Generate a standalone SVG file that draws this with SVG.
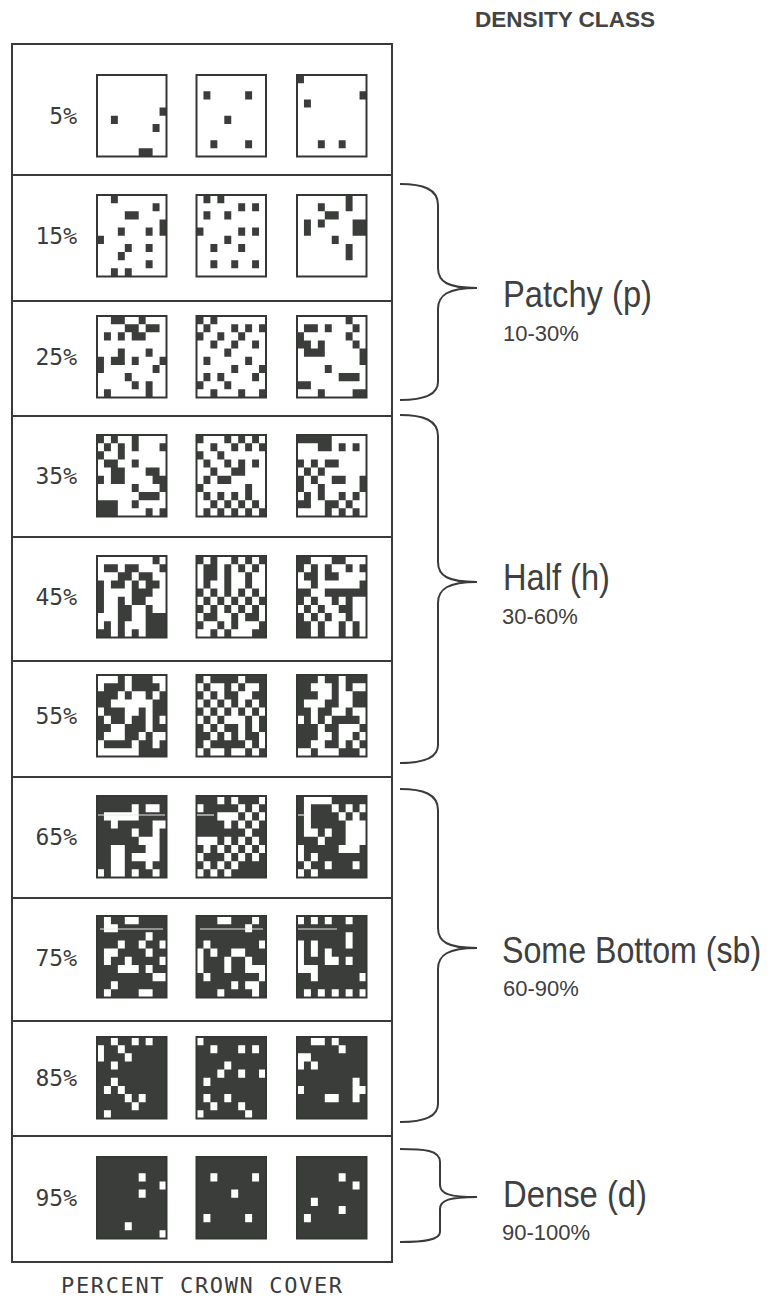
<svg xmlns="http://www.w3.org/2000/svg" width="770" height="1299" viewBox="0 0 770 1299">
<style>
.k{fill:#3b3d3b}
.w{fill:#fff}
.bg{fill:#3b3d3b}
.sq{fill:none;stroke:#353735;stroke-width:2}
.frame{fill:none;stroke:#3a3a3a;stroke-width:2}
.sep{stroke:#3a3a3a;stroke-width:2}
.pct{font-family:"DejaVu Sans Mono","Liberation Mono",monospace;font-size:23px;fill:#3c3c3c;text-anchor:end}
.foot{font-family:"DejaVu Sans Mono","Liberation Mono",monospace;font-size:22px;fill:#3c3c3c}
.head{font-family:"Liberation Sans",Arial,sans-serif;font-size:22px;font-weight:bold;fill:#444}
.cls{font-family:"Liberation Sans",Arial,sans-serif;font-size:37px;fill:#404040}
.rng{font-family:"Liberation Sans",Arial,sans-serif;font-size:22px;fill:#404040}
.brace{fill:none;stroke:#3a3a3a;stroke-width:2}
.scan{stroke:#e8e8e8;stroke-width:1.2}
</style>

<text class="head" x="475" y="27" textLength="180" lengthAdjust="spacingAndGlyphs">DENSITY CLASS</text>

<g id="table">
<rect class="frame" x="12" y="44" width="380" height="1218"/>
<line class="sep" x1="12" y1="175" x2="392" y2="175"/>
<line class="sep" x1="12" y1="301" x2="392" y2="301"/>
<line class="sep" x1="12" y1="416" x2="392" y2="416"/>
<line class="sep" x1="12" y1="537" x2="392" y2="537"/>
<line class="sep" x1="12" y1="661" x2="392" y2="661"/>
<line class="sep" x1="12" y1="777" x2="392" y2="777"/>
<line class="sep" x1="12" y1="898" x2="392" y2="898"/>
<line class="sep" x1="12" y1="1021" x2="392" y2="1021"/>
<line class="sep" x1="12" y1="1136" x2="392" y2="1136"/>
</g>

<g id="row-5">
<text class="pct" x="77" y="124">5%</text>
<g transform="translate(97 75) scale(6.95 8.15)"><path class="k" d="M9 4h1v1h-1zM2 5h1v1h-1zM8 6h1v1h-1zM6 9h2v1h-2z"/></g>
<rect class="sq" x="97" y="75" width="69.5" height="81.5"/>
<g transform="translate(196.5 75) scale(6.95 8.15)"><path class="k" d="M1 2h1v1h-1zM7 2h1v1h-1zM4 5h1v1h-1zM2 8h1v1h-1zM7 8h1v1h-1z"/></g>
<rect class="sq" x="196.5" y="75" width="69.5" height="81.5"/>
<g transform="translate(297 75) scale(6.95 8.15)"><path class="k" d="M0 0h1v1h-1zM9 2h1v1h-1zM1 3h1v1h-1zM3 8h1v1h-1zM6 8h1v1h-1z"/></g>
<rect class="sq" x="297" y="75" width="69.5" height="81.5"/>
</g>

<g id="row-15">
<text class="pct" x="77" y="244">15%</text>
<g transform="translate(97 195) scale(6.95 8.15)"><path class="k" d="M2 0h1v1h-1zM8 1h1v1h-1zM4 2h2v1h-2zM9 3h1v2h-1zM3 4h1v1h-1zM7 4h1v1h-1zM0 5h1v1h-1zM4 6h1v1h-1zM7 6h1v1h-1zM3 7h1v1h-1zM7 8h1v1h-1zM2 9h1v1h-1zM4 9h1v1h-1z"/></g>
<rect class="sq" x="97" y="195" width="69.5" height="81.5"/>
<g transform="translate(196.5 195) scale(6.95 8.15)"><path class="k" d="M1 0h1v1h-1zM3 0h1v1h-1zM6 1h1v1h-1zM8 1h1v1h-1zM1 2h1v1h-1zM4 2h1v1h-1zM0 4h1v1h-1zM6 4h1v1h-1zM8 4h1v1h-1zM4 5h1v1h-1zM2 6h1v1h-1zM6 6h1v1h-1zM2 8h1v1h-1zM5 8h1v1h-1zM8 8h1v1h-1z"/></g>
<rect class="sq" x="196.5" y="195" width="69.5" height="81.5"/>
<g transform="translate(297 195) scale(6.95 8.15)"><path class="k" d="M7 0h1v2h-1zM3 1h1v1h-1zM4 2h2v1h-2zM1 3h1v2h-1zM3 3h1v1h-1zM8 3h2v2h-2zM5 5h1v1h-1zM7 6h1v2h-1z"/></g>
<rect class="sq" x="297" y="195" width="69.5" height="81.5"/>
</g>

<g id="row-25">
<text class="pct" x="77" y="365">25%</text>
<g transform="translate(97 316) scale(6.95 8.15)"><path class="k" d="M2 0h2v1h-2zM6 0h1v1h-1zM4 1h2v1h-2zM7 1h2v1h-2zM1 2h1v1h-1zM3 2h1v1h-1zM5 2h2v1h-2zM3 4h1v1h-1zM7 4h1v1h-1zM0 5h1v2h-1zM2 5h2v1h-2zM5 5h1v1h-1zM9 5h1v1h-1zM8 6h1v1h-1zM4 7h1v1h-1zM5 8h1v1h-1zM7 8h1v2h-1zM1 9h1v1h-1z"/></g>
<rect class="sq" x="97" y="316" width="69.5" height="81.5"/>
<g transform="translate(196.5 316) scale(6.95 8.15)"><path class="k" d="M0 0h1v1h-1zM2 0h1v1h-1zM1 1h1v1h-1zM5 1h1v1h-1zM7 1h1v1h-1zM9 1h1v1h-1zM0 2h1v1h-1zM3 2h1v1h-1zM6 2h1v1h-1zM2 3h1v1h-1zM5 3h1v1h-1zM8 3h1v1h-1zM4 4h1v1h-1zM1 5h1v1h-1zM7 5h1v1h-1zM5 6h1v1h-1zM9 6h1v1h-1zM1 7h1v1h-1zM3 7h1v1h-1zM8 7h1v1h-1zM0 8h1v1h-1zM4 8h1v1h-1zM2 9h1v1h-1zM6 9h1v1h-1zM9 9h1v1h-1z"/></g>
<rect class="sq" x="196.5" y="316" width="69.5" height="81.5"/>
<g transform="translate(297 316) scale(6.95 8.15)"><path class="k" d="M7 0h1v1h-1zM1 1h2v1h-2zM4 1h1v1h-1zM8 1h1v1h-1zM0 2h1v2h-1zM7 2h1v1h-1zM1 3h1v1h-1zM3 3h1v1h-1zM8 3h1v1h-1zM1 4h3v1h-3zM9 4h1v2h-1zM4 6h1v1h-1zM6 7h3v1h-3zM0 8h2v1h-2zM3 9h1v1h-1zM8 9h2v1h-2z"/></g>
<rect class="sq" x="297" y="316" width="69.5" height="81.5"/>
</g>

<g id="row-35">
<text class="pct" x="77" y="484">35%</text>
<g transform="translate(97 435) scale(6.95 8.15)"><path class="k" d="M0 0h1v1h-1zM2 0h1v1h-1zM5 0h1v2h-1zM1 1h1v1h-1zM3 1h1v2h-1zM9 1h1v1h-1zM0 2h1v1h-1zM1 3h2v1h-2zM5 3h1v1h-1zM2 4h2v2h-2zM7 4h2v1h-2zM0 5h1v1h-1zM8 5h2v1h-2zM5 6h1v1h-1zM9 6h1v1h-1zM6 7h3v1h-3zM0 8h3v2h-3zM5 8h1v1h-1zM7 9h1v1h-1zM9 9h1v1h-1z"/></g>
<rect class="sq" x="97" y="435" width="69.5" height="81.5"/>
<g transform="translate(196.5 435) scale(6.95 8.15)"><path class="k" d="M0 0h1v1h-1zM4 0h1v1h-1zM6 0h1v1h-1zM8 0h1v1h-1zM2 1h1v1h-1zM5 1h1v1h-1zM7 1h1v1h-1zM9 1h1v1h-1zM0 2h1v1h-1zM3 2h1v1h-1zM1 3h1v1h-1zM4 3h1v1h-1zM6 3h1v1h-1zM8 3h1v1h-1zM2 4h1v1h-1zM5 4h2v1h-2zM1 5h1v1h-1zM3 5h2v1h-2zM0 6h1v1h-1zM7 6h1v1h-1zM1 7h1v1h-1zM3 7h1v1h-1zM5 7h1v1h-1zM7 7h1v1h-1zM2 8h1v1h-1zM4 8h1v1h-1zM6 8h1v1h-1zM8 8h1v1h-1zM1 9h1v1h-1zM3 9h1v1h-1zM5 9h1v1h-1zM7 9h1v1h-1zM9 9h1v1h-1z"/></g>
<rect class="sq" x="196.5" y="435" width="69.5" height="81.5"/>
<g transform="translate(297 435) scale(6.95 8.15)"><path class="k" d="M0 0h5v1h-5zM3 1h2v1h-2zM6 1h1v1h-1zM8 1h1v1h-1zM0 3h1v1h-1zM2 3h1v1h-1zM4 3h2v1h-2zM1 4h1v1h-1zM3 4h1v1h-1zM0 5h1v2h-1zM2 5h1v1h-1zM5 5h2v1h-2zM9 5h1v2h-1zM3 6h1v2h-1zM1 7h1v1h-1zM6 7h1v1h-1zM8 7h1v1h-1zM0 8h2v1h-2zM4 8h2v1h-2zM7 8h1v1h-1zM4 9h1v1h-1zM6 9h1v1h-1zM8 9h1v1h-1z"/></g>
<rect class="sq" x="297" y="435" width="69.5" height="81.5"/>
</g>

<g id="row-45">
<text class="pct" x="77" y="605">45%</text>
<g transform="translate(97 556) scale(6.95 8.15)"><path class="k" d="M8 0h1v1h-1zM1 1h2v1h-2zM4 1h2v1h-2zM9 1h1v1h-1zM3 2h2v1h-2zM6 2h2v1h-2zM0 3h1v4h-1zM2 3h2v1h-2zM5 3h1v3h-1zM7 3h2v1h-2zM6 4h2v1h-2zM3 5h1v5h-1zM6 5h1v1h-1zM4 6h1v2h-1zM7 6h1v4h-1zM8 7h2v3h-2zM1 8h1v2h-1zM0 9h1v1h-1zM5 9h1v1h-1z"/></g>
<rect class="sq" x="97" y="556" width="69.5" height="81.5"/>
<g transform="translate(196.5 556) scale(6.95 8.15)"><path class="k" d="M0 0h1v1h-1zM2 0h1v1h-1zM5 0h1v1h-1zM7 0h1v1h-1zM9 0h1v1h-1zM1 1h2v2h-2zM4 1h1v3h-1zM6 1h1v1h-1zM8 1h1v1h-1zM7 2h1v2h-1zM1 3h1v1h-1zM0 4h1v1h-1zM2 4h1v1h-1zM4 4h1v1h-1zM6 4h1v1h-1zM8 4h1v1h-1zM1 5h1v1h-1zM3 5h1v1h-1zM5 5h1v1h-1zM7 5h1v1h-1zM9 5h1v1h-1zM0 6h1v1h-1zM2 6h1v1h-1zM4 6h1v1h-1zM6 6h1v1h-1zM8 6h1v1h-1zM1 7h2v1h-2zM5 7h1v2h-1zM7 7h2v1h-2zM0 8h1v1h-1zM3 8h1v1h-1zM9 8h1v1h-1zM2 9h1v1h-1zM4 9h1v1h-1zM8 9h2v1h-2z"/></g>
<rect class="sq" x="196.5" y="556" width="69.5" height="81.5"/>
<g transform="translate(297 556) scale(6.95 8.15)"><path class="k" d="M0 0h2v1h-2zM5 0h2v1h-2zM0 1h1v1h-1zM2 1h1v1h-1zM4 1h1v1h-1zM7 1h1v1h-1zM9 1h1v1h-1zM1 2h2v1h-2zM4 2h2v1h-2zM2 3h1v1h-1zM9 3h1v1h-1zM0 4h2v1h-2zM4 4h6v1h-6zM0 5h1v1h-1zM2 5h1v1h-1zM5 5h1v1h-1zM7 5h1v1h-1zM1 6h1v1h-1zM3 6h1v1h-1zM6 6h2v1h-2zM0 7h1v1h-1zM2 7h1v1h-1zM4 7h1v1h-1zM7 7h1v1h-1zM0 8h2v2h-2zM3 8h1v2h-1zM6 8h1v2h-1zM8 8h1v2h-1z"/></g>
<rect class="sq" x="297" y="556" width="69.5" height="81.5"/>
</g>

<g id="row-55">
<text class="pct" x="77" y="724">55%</text>
<rect class="bg" x="97" y="675" width="69.5" height="81.5"/>
<g transform="translate(97 675) scale(6.95 8.15)"><path class="w" d="M0 0h3v1h-3zM4 0h1v2h-1zM8 0h2v1h-2zM0 1h1v1h-1zM9 1h1v1h-1zM3 2h1v1h-1zM5 2h2v1h-2zM8 2h1v1h-1zM2 3h6v1h-6zM0 4h1v1h-1zM4 4h2v1h-2zM7 4h1v3h-1zM1 5h1v1h-1zM4 5h1v1h-1zM9 5h1v1h-1zM2 6h2v1h-2zM1 7h3v1h-3zM6 7h1v1h-1zM8 7h2v1h-2zM0 8h1v2h-1zM5 8h1v1h-1zM8 8h1v1h-1zM1 9h5v1h-5z"/></g>
<rect class="sq" x="97" y="675" width="69.5" height="81.5"/>
<rect class="bg" x="196.5" y="675" width="69.5" height="81.5"/>
<g transform="translate(196.5 675) scale(6.95 8.15)"><path class="w" d="M1 0h1v1h-1zM6 0h1v1h-1zM0 1h1v1h-1zM2 1h2v1h-2zM5 1h1v1h-1zM7 1h2v1h-2zM1 2h1v1h-1zM3 2h1v1h-1zM6 2h2v1h-2zM0 3h1v1h-1zM2 3h1v1h-1zM4 3h1v1h-1zM6 3h1v1h-1zM8 3h1v1h-1zM1 4h1v1h-1zM3 4h1v1h-1zM5 4h1v1h-1zM7 4h1v1h-1zM9 4h1v1h-1zM0 5h1v1h-1zM2 5h1v1h-1zM4 5h3v1h-3zM8 5h1v1h-1zM1 6h1v1h-1zM3 6h1v1h-1zM6 6h1v1h-1zM8 6h1v1h-1zM2 7h1v1h-1zM4 7h1v1h-1zM6 7h1v1h-1zM9 7h1v1h-1zM1 8h1v1h-1zM7 8h1v1h-1zM9 8h1v1h-1zM0 9h1v1h-1zM2 9h2v1h-2zM5 9h2v1h-2zM8 9h1v1h-1z"/></g>
<rect class="sq" x="196.5" y="675" width="69.5" height="81.5"/>
<rect class="bg" x="297" y="675" width="69.5" height="81.5"/>
<g transform="translate(297 675) scale(6.95 8.15)"><path class="w" d="M3 0h1v1h-1zM6 0h1v4h-1zM2 1h3v1h-3zM8 1h2v1h-2zM3 2h2v1h-2zM7 2h1v2h-1zM1 3h3v1h-3zM2 4h1v2h-1zM5 4h2v1h-2zM8 4h2v1h-2zM0 5h1v1h-1zM4 5h1v1h-1zM9 5h1v1h-1zM3 6h1v2h-1zM6 6h3v1h-3zM4 7h1v1h-1zM6 7h2v1h-2zM9 7h1v1h-1zM2 8h2v1h-2zM6 8h1v1h-1zM8 8h1v1h-1zM0 9h2v1h-2zM3 9h3v1h-3zM9 9h1v1h-1z"/></g>
<rect class="sq" x="297" y="675" width="69.5" height="81.5"/>
</g>

<g id="row-65">
<text class="pct" x="77" y="845">65%</text>
<rect class="bg" x="97" y="796" width="69.5" height="81.5"/>
<g transform="translate(97 796) scale(6.95 8.15)"><path class="w" d="M5 1h1v1h-1zM7 1h2v1h-2zM1 2h5v1h-5zM2 3h1v1h-1zM8 3h2v1h-2zM5 4h1v1h-1zM8 4h1v1h-1zM6 5h3v1h-3zM2 6h2v4h-2zM7 6h2v1h-2zM5 7h4v1h-4zM7 8h1v1h-1zM0 9h1v1h-1zM5 9h1v1h-1zM8 9h1v1h-1z"/></g>
<rect class="sq" x="97" y="796" width="69.5" height="81.5"/>
<rect class="bg" x="196.5" y="796" width="69.5" height="81.5"/>
<g transform="translate(196.5 796) scale(6.95 8.15)"><path class="w" d="M3 0h1v1h-1zM5 0h1v1h-1zM9 0h1v1h-1zM0 1h1v1h-1zM6 1h1v1h-1zM8 1h1v1h-1zM3 2h3v1h-3zM7 2h1v1h-1zM9 2h1v1h-1zM4 3h1v1h-1zM6 3h1v1h-1zM8 3h1v1h-1zM7 4h1v1h-1zM0 5h3v1h-3zM4 5h1v1h-1zM6 5h1v1h-1zM8 5h1v1h-1zM1 6h1v1h-1zM3 6h1v1h-1zM5 6h1v1h-1zM7 6h1v1h-1zM9 6h1v1h-1zM0 7h1v1h-1zM4 7h1v1h-1zM6 7h1v1h-1zM8 7h1v1h-1zM1 8h1v1h-1zM3 8h1v1h-1zM5 8h1v1h-1zM0 9h1v1h-1zM2 9h1v1h-1zM4 9h1v1h-1z"/></g>
<rect class="sq" x="196.5" y="796" width="69.5" height="81.5"/>
<rect class="bg" x="297" y="796" width="69.5" height="81.5"/>
<g transform="translate(297 796) scale(6.95 8.15)"><path class="w" d="M1 0h4v1h-4zM1 1h1v4h-1zM5 1h1v1h-1zM7 1h1v1h-1zM9 1h1v1h-1zM6 2h1v1h-1zM8 2h1v1h-1zM7 3h3v3h-3zM2 4h1v1h-1zM4 4h1v1h-1zM3 5h1v1h-1zM0 6h1v2h-1zM6 6h3v1h-3zM2 7h1v1h-1zM1 8h1v1h-1zM4 8h1v1h-1zM8 8h1v1h-1zM0 9h1v1h-1zM2 9h1v1h-1z"/></g>
<rect class="sq" x="297" y="796" width="69.5" height="81.5"/>
<line class="scan" x1="98" y1="815" x2="165" y2="815"/>
<line class="scan" x1="197" y1="815" x2="214" y2="815"/>
<line class="scan" x1="298" y1="815" x2="305" y2="815"/>
</g>

<g id="row-75">
<text class="pct" x="77" y="966">75%</text>
<rect class="bg" x="97" y="916" width="69.5" height="81.5"/>
<g transform="translate(97 916) scale(6.95 8.15)"><path class="w" d="M1 0h1v2h-1zM4 0h2v1h-2zM2 1h1v1h-1zM7 2h1v1h-1zM3 3h1v1h-1zM6 3h1v1h-1zM9 3h1v1h-1zM1 4h2v1h-2zM7 4h1v1h-1zM1 5h1v1h-1zM4 5h1v1h-1zM9 5h1v1h-1zM3 6h3v1h-3zM7 6h1v1h-1zM8 7h2v1h-2zM2 8h1v1h-1zM1 9h1v1h-1zM6 9h2v1h-2z"/></g>
<rect class="sq" x="97" y="916" width="69.5" height="81.5"/>
<rect class="bg" x="196.5" y="916" width="69.5" height="81.5"/>
<g transform="translate(196.5 916) scale(6.95 8.15)"><path class="w" d="M3 0h2v1h-2zM8 0h1v1h-1zM7 1h1v1h-1zM1 3h1v1h-1zM9 3h1v1h-1zM0 4h1v3h-1zM2 4h1v1h-1zM5 4h2v1h-2zM4 5h1v2h-1zM7 5h1v1h-1zM7 6h3v1h-3zM1 7h1v1h-1zM9 7h1v1h-1zM5 8h1v1h-1zM7 8h2v1h-2zM3 9h1v1h-1zM8 9h1v1h-1z"/></g>
<rect class="sq" x="196.5" y="916" width="69.5" height="81.5"/>
<rect class="bg" x="297" y="916" width="69.5" height="81.5"/>
<g transform="translate(297 916) scale(6.95 8.15)"><path class="w" d="M0 0h1v1h-1zM2 0h1v1h-1zM4 0h1v1h-1zM7 0h1v1h-1zM7 2h1v2h-1zM0 3h1v4h-1zM2 3h1v2h-1zM4 4h1v2h-1zM5 5h1v1h-1zM7 5h1v1h-1zM1 6h2v1h-2zM2 7h1v1h-1zM9 7h1v1h-1zM1 9h1v1h-1zM3 9h1v1h-1zM5 9h1v1h-1zM7 9h1v1h-1zM9 9h1v1h-1z"/></g>
<rect class="sq" x="297" y="916" width="69.5" height="81.5"/>
<line class="scan" x1="100" y1="929" x2="163" y2="929"/>
<line class="scan" x1="200" y1="929" x2="263" y2="929"/>
<line class="scan" x1="298" y1="929" x2="337" y2="929"/>
</g>

<g id="row-85">
<text class="pct" x="77" y="1086">85%</text>
<rect class="bg" x="97" y="1037" width="69.5" height="81.5"/>
<g transform="translate(97 1037) scale(6.95 8.15)"><path class="w" d="M2 0h1v1h-1zM5 0h1v1h-1zM7 0h1v1h-1zM0 1h1v2h-1zM3 1h1v1h-1zM4 2h1v1h-1zM2 3h1v1h-1zM2 5h1v1h-1zM1 6h1v1h-1zM3 6h1v1h-1zM4 7h1v1h-1zM6 7h1v1h-1zM5 8h1v1h-1zM1 9h1v1h-1z"/></g>
<rect class="sq" x="97" y="1037" width="69.5" height="81.5"/>
<rect class="bg" x="196.5" y="1037" width="69.5" height="81.5"/>
<g transform="translate(196.5 1037) scale(6.95 8.15)"><path class="w" d="M0 0h1v1h-1zM2 1h1v1h-1zM6 1h1v1h-1zM8 1h1v1h-1zM4 3h1v1h-1zM3 4h1v1h-1zM6 4h1v1h-1zM9 4h1v1h-1zM1 5h1v1h-1zM1 7h1v1h-1zM4 7h1v1h-1zM2 8h1v1h-1zM6 8h1v1h-1zM0 9h1v1h-1zM7 9h1v1h-1z"/></g>
<rect class="sq" x="196.5" y="1037" width="69.5" height="81.5"/>
<rect class="bg" x="297" y="1037" width="69.5" height="81.5"/>
<g transform="translate(297 1037) scale(6.95 8.15)"><path class="w" d="M2 0h2v1h-2zM5 0h1v1h-1zM6 1h1v1h-1zM0 2h2v1h-2zM0 3h1v1h-1zM2 3h1v1h-1zM8 5h1v3h-1zM0 6h1v1h-1zM9 6h1v1h-1zM4 7h2v1h-2z"/></g>
<rect class="sq" x="297" y="1037" width="69.5" height="81.5"/>
</g>

<g id="row-95">
<text class="pct" x="77" y="1206">95%</text>
<rect class="bg" x="97" y="1157" width="69.5" height="81.5"/>
<g transform="translate(97 1157) scale(6.95 8.15)"><path class="w" d="M6 2h1v1h-1zM9 3h1v1h-1zM6 4h1v1h-1zM4 8h1v1h-1zM9 9h1v1h-1z"/></g>
<rect class="sq" x="97" y="1157" width="69.5" height="81.5"/>
<rect class="bg" x="196.5" y="1157" width="69.5" height="81.5"/>
<g transform="translate(196.5 1157) scale(6.95 8.15)"><path class="w" d="M2 2h1v1h-1zM8 2h1v1h-1zM5 4h1v1h-1zM1 7h1v1h-1zM7 7h1v1h-1z"/></g>
<rect class="sq" x="196.5" y="1157" width="69.5" height="81.5"/>
<rect class="bg" x="297" y="1157" width="69.5" height="81.5"/>
<g transform="translate(297 1157) scale(6.95 8.15)"><path class="w" d="M6 2h1v1h-1zM8 3h1v1h-1zM2 5h1v1h-1zM6 6h1v1h-1zM1 7h1v1h-1z"/></g>
<rect class="sq" x="297" y="1157" width="69.5" height="81.5"/>
</g>

<text class="foot" x="61" y="1293" textLength="281" lengthAdjust="spacing">PERCENT CROWN COVER</text>

<g id="connectors">
<path class="brace" d="M400 184C423 184 438 189 438 205L438 268C438 282 448 288 477 288M477 288C448 288 438 295 438 309L438 382C438 395 423 400 400 400"/>
<path class="brace" d="M400 415C423 415 438 420 438 436L438 562C438 576 448 582 477 582M477 582C448 582 438 589 438 603L438 745C438 758 423 763 400 763"/>
<path class="brace" d="M400 789C423 789 438 794 438 810L438 928C438 942 448 948 477 948M477 948C448 948 438 955 438 969L438 1104C438 1117 423 1122 400 1122"/>
<path class="brace" d="M400 1149C424 1149 440 1150 440 1162L440 1185C440 1194 450 1197 477 1197M477 1197C450 1197 440 1200 440 1209L440 1232C440 1240 424 1242 400 1242"/>
</g>

<g id="class-patchy">
<text class="cls" x="503" y="307" textLength="149" lengthAdjust="spacingAndGlyphs">Patchy (p)</text>
<text class="rng" x="503" y="340.5">10-30%</text>
</g>
<g id="class-half">
<text class="cls" x="503" y="590" textLength="107" lengthAdjust="spacingAndGlyphs">Half (h)</text>
<text class="rng" x="502" y="624">30-60%</text>
</g>
<g id="class-some-bottom">
<text class="cls" transform="translate(502 963) scale(0.87 1)" x="0" y="0">Some Bottom (sb)</text>
<text class="rng" x="503" y="995.5">60-90%</text>
</g>
<g id="class-dense">
<text class="cls" x="503" y="1207" textLength="144" lengthAdjust="spacingAndGlyphs">Dense (d)</text>
<text class="rng" x="502" y="1240">90-100%</text>
</g>
</svg>
